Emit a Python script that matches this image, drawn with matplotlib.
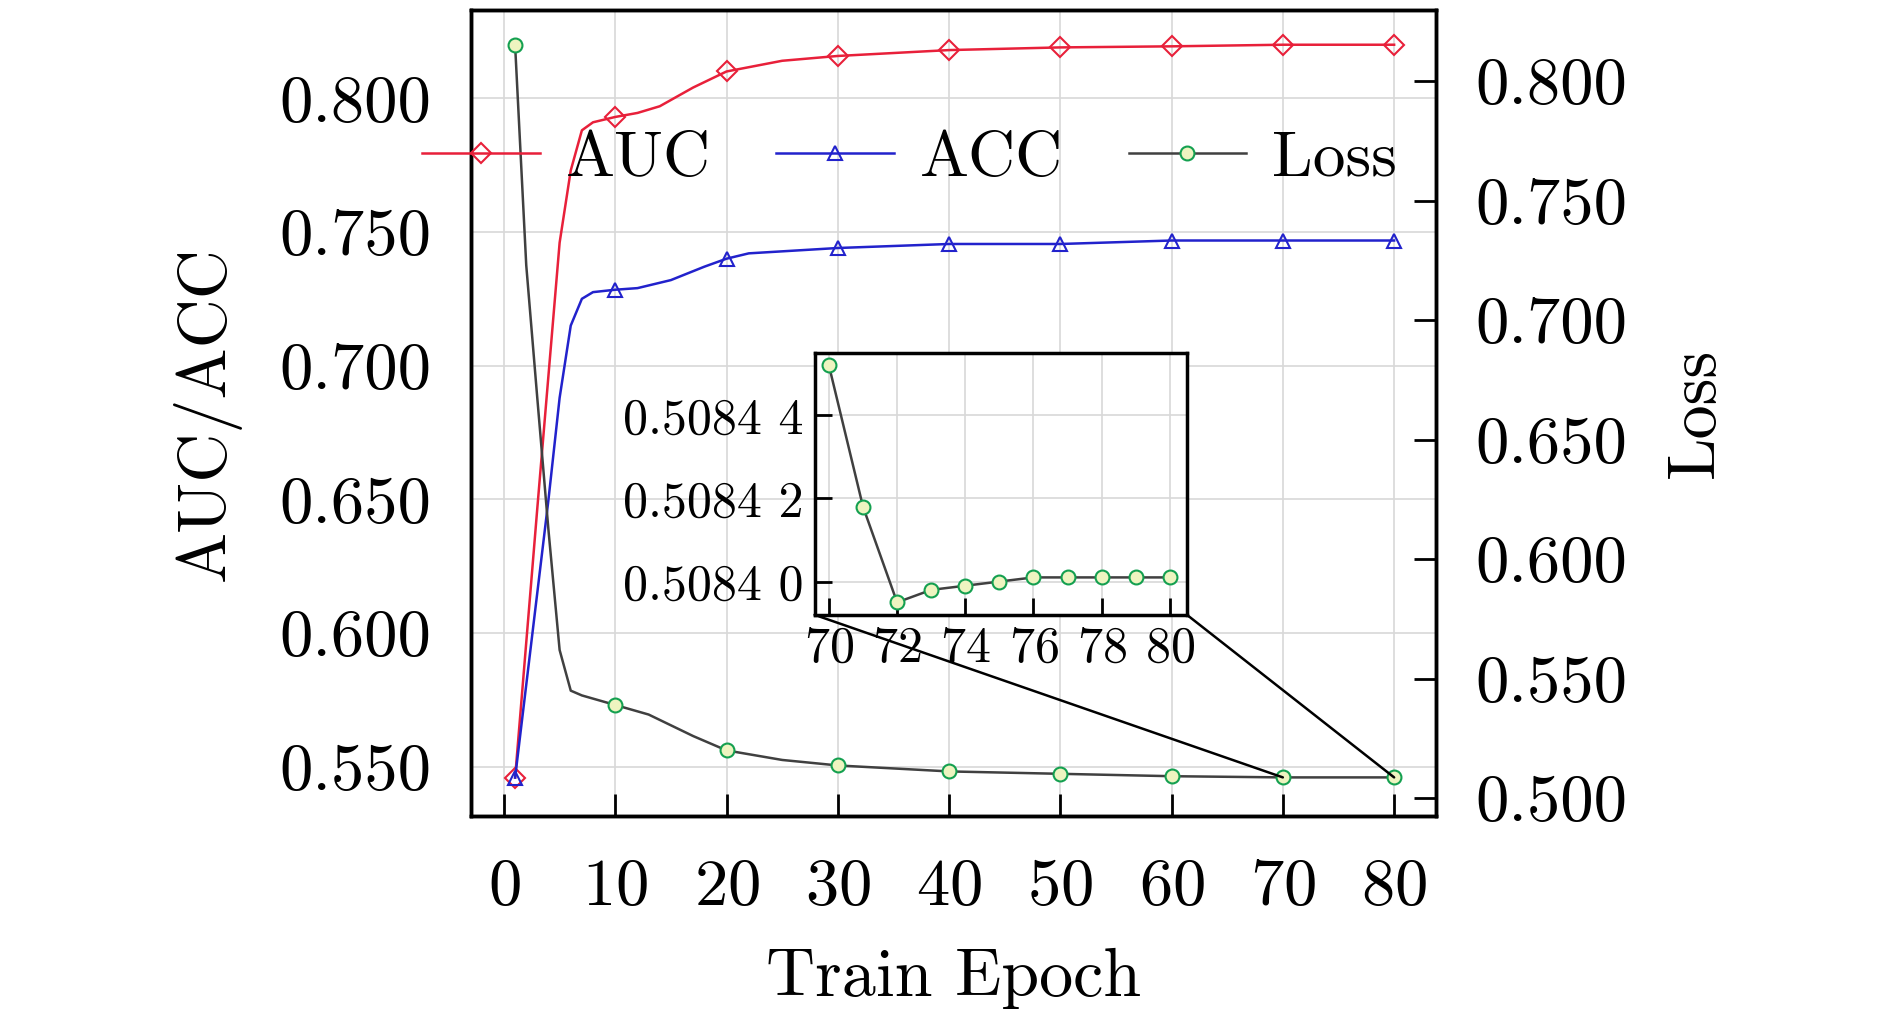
import numpy as np
import matplotlib
matplotlib.use('Agg')
import matplotlib.pyplot as plt
from matplotlib.patches import ConnectionPatch
from matplotlib.lines import Line2D
from matplotlib.ticker import FixedLocator, FixedFormatter

plt.rcParams['font.family'] = 'serif'
plt.rcParams['font.serif'] = ['cmr10', 'DejaVu Serif']
plt.rcParams['mathtext.fontset'] = 'cm'
plt.rcParams['axes.formatter.use_mathtext'] = True

# data
auc_ep = [1, 3, 5, 6, 7, 8, 10, 12, 14, 17, 20, 25, 30, 40, 50, 60, 70, 80]
auc = [0.546, 0.647, 0.746, 0.773, 0.788, 0.791, 0.793, 0.7945, 0.797, 0.804,
       0.810, 0.814, 0.8158, 0.818, 0.819, 0.8194, 0.820, 0.820]
acc_ep = [1, 4, 5, 6, 7, 8, 10, 12, 15, 18, 20, 22, 30, 40, 50, 60, 70, 80]
acc = [0.546, 0.650, 0.688, 0.715, 0.725, 0.7275, 0.7284, 0.729, 0.732, 0.737,
       0.740, 0.742, 0.744, 0.7455, 0.7455, 0.7468, 0.7468, 0.7468]
loss_ep = [1, 2, 3, 4, 5, 6, 7, 10, 13, 17, 20, 25, 30, 40, 50, 60, 70, 80]
loss = [0.815, 0.723, 0.667, 0.612, 0.562, 0.545, 0.543, 0.539, 0.535, 0.526,
        0.520, 0.516, 0.5137, 0.5112, 0.5102, 0.5092, 0.5087, 0.5087]
mark_ep = [1, 10, 20, 30, 40, 50, 60, 70, 80]

zoom_ep = [70, 71, 72, 73, 74, 75, 76, 77, 78, 79, 80]
zoom_loss = [0.508452, 0.508418, 0.508395, 0.508398, 0.508399, 0.508400,
             0.508401, 0.508401, 0.508401, 0.508401, 0.508401]
zoom_ticks = [0.50840, 0.50842, 0.50844]
zoom_labels = ['0.5084 0', '0.5084 2', '0.5084 4']

red = '#e8203a'
blue = '#2222cc'
gray = '#404040'
green = '#14a050'
mfill = '#eef4c0'

fig = plt.figure(figsize=(18.9, 10.23), dpi=100)
ax = fig.add_axes([0.249, 0.202, 0.511, 0.788])
ax2 = ax.twinx()

def marks(ep):
    return [ep.index(e) for e in mark_ep]

ax.plot(auc_ep, auc, color=red, lw=1.8, marker='D', ms=10, mfc='none',
        mec=red, mew=1.5, markevery=marks(auc_ep))
ax.plot(acc_ep, acc, color=blue, lw=1.8, marker='^', ms=10, mfc='none',
        mec=blue, mew=1.5, markevery=marks(acc_ep))
ax2.plot(loss_ep, loss, color=gray, lw=1.8, marker='o', ms=10, mfc=mfill,
         mec=green, mew=1.5, markevery=marks(loss_ep))

ax.set_xlim(-3.0, 83.8)
ax.set_ylim(0.5315, 0.8329)
ax2.set_ylim(0.4924, 0.8297)
ax.set_xticks([0, 10, 20, 30, 40, 50, 60, 70, 80])
ax.set_yticks([0.55, 0.60, 0.65, 0.70, 0.75, 0.80])
ax.set_yticklabels(['0.550', '0.600', '0.650', '0.700', '0.750', '0.800'])
ax2.set_yticks([0.50, 0.55, 0.60, 0.65, 0.70, 0.75, 0.80])
ax2.set_yticklabels(['0.500', '0.550', '0.600', '0.650', '0.700', '0.750', '0.800'])
ax.grid(True, color='#d8d8d8', lw=1.2)
ax.set_axisbelow(True)

ax.tick_params(axis='x', direction='in', length=16, width=2, labelsize=48, pad=30)
ax.tick_params(axis='y', length=0, labelsize=48, pad=28)
ax2.tick_params(axis='y', direction='in', length=16, width=2, labelsize=48, pad=28)
for a in (ax, ax2):
    for s in a.spines.values():
        s.set_linewidth(2.5)

ax.set_xlabel('Train Epoch', fontsize=49, labelpad=22)
ax.set_ylabel('AUC/ACC', fontsize=49, labelpad=28)
ax2.set_ylabel('Loss', fontsize=49, labelpad=28)

handles = [
    Line2D([], [], color=red, lw=1.8, marker='D', ms=10, mfc='none', mec=red, mew=1.5),
    Line2D([], [], color=blue, lw=1.8, marker='^', ms=10, mfc='none', mec=blue, mew=1.5),
    Line2D([], [], color=gray, lw=1.8, marker='o', ms=10, mfc=mfill, mec=green, mew=1.5),
]
ax2.legend(handles, ['AUC', 'ACC', 'Loss'], ncol=3, frameon=False, fontsize=47,
           loc='upper right', bbox_to_anchor=(1.0, 0.90), handlelength=1.8,
           handletextpad=0.4, columnspacing=1.0, borderaxespad=0.2)

# inset
ins = fig.add_axes([0.431, 0.399, 0.197, 0.256])
ins.plot(zoom_ep, zoom_loss, color=gray, lw=1.8, marker='o', ms=10,
         mfc=mfill, mec=green, mew=1.5)
ins.set_xlim(69.58, 80.5)
ins.set_ylim(0.508392, 0.508455)
ins.set_xticks([70, 72, 74, 76, 78, 80])
ins.yaxis.set_major_locator(FixedLocator(zoom_ticks))
ins.yaxis.set_major_formatter(FixedFormatter(zoom_labels))
ins.grid(True, color='#d8d8d8', lw=1.2)
ins.tick_params(direction='in', length=12, width=2, labelsize=36, pad=8)
for s in ins.spines.values():
    s.set_linewidth(2.5)

for xa, xi in ((0, 70), (1, 80)):
    con = ConnectionPatch(xyA=(xa, 0), coordsA=ins.transAxes,
                          xyB=(xi, loss[-1]), coordsB=ax2.transData,
                          color='black', lw=1.8)
    fig.add_artist(con)

fig.savefig('out.png', dpi=100)
